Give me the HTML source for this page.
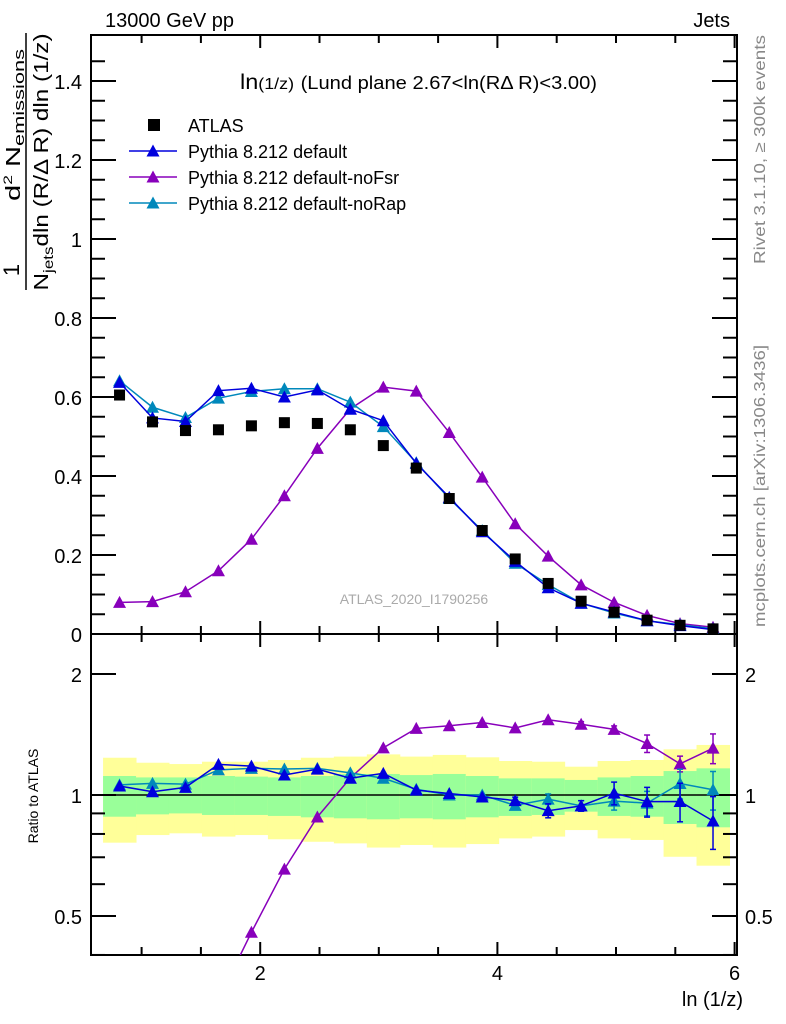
<!DOCTYPE html>
<html style="overflow:hidden"><head><meta charset="utf-8"><style>
html,body{margin:0;padding:0;background:#fff;overflow:hidden;width:786px;height:1024px}
svg{display:block;font-family:"Liberation Sans",sans-serif}
</style></head><body>
<svg id="c" width="786" height="1024" viewBox="0 0 786 1024">
<g id="bands"></g>
<g id="axes"></g>
<g id="series"></g>
<text x="105" y="27" font-size="20">13000 GeV pp</text>
<text x="730" y="27" font-size="20" text-anchor="end">Jets</text>
<text x="240" y="89" font-size="21" textLength="357" lengthAdjust="spacingAndGlyphs">ln<tspan font-size="16">(1/z)</tspan> <tspan font-size="18">(Lund plane 2.67&lt;ln(RΔ R)&lt;3.00)</tspan></text>
<text x="414" y="604" font-size="14" fill="#aaa" text-anchor="middle">ATLAS_2020_I1790256</text>
<text transform="translate(765,264) rotate(-90)" font-size="16" fill="#888" textLength="229" lengthAdjust="spacingAndGlyphs">Rivet 3.1.10, ≥ 300k events</text>
<text transform="translate(765,627) rotate(-90)" font-size="16" fill="#888" textLength="282" lengthAdjust="spacingAndGlyphs">mcplots.cern.ch [arXiv:1306.3436]</text>
<g>
<text transform="translate(48,162) rotate(-90)" text-anchor="middle" font-size="20" textLength="257" lengthAdjust="spacingAndGlyphs">N<tspan font-size="14" dy="5">jets</tspan><tspan dy="-5">dln (R/Δ R) dln (1/z)</tspan></text>
<line x1="26" y1="290" x2="26" y2="33" stroke="#000" stroke-width="1.5"/>
<text transform="translate(19,270) rotate(-90)" text-anchor="middle" font-size="22">1</text>
<text transform="translate(20,125) rotate(-90)" text-anchor="middle" font-size="20" textLength="152" lengthAdjust="spacingAndGlyphs">d<tspan font-size="12" dy="-8">2</tspan><tspan dy="8"> N</tspan><tspan font-size="15" dy="4">emissions</tspan></text>
</g>
<text transform="translate(38,796) rotate(-90)" font-size="14" text-anchor="middle">Ratio to ATLAS</text>
<text x="743" y="1006" font-size="20" text-anchor="end">ln (1/z)</text>
<g id="legend"></g>
</svg>
<script>
const lo=[0.675,0.953,1.231,1.509,1.787,2.065,2.343,2.621,2.899,3.177,3.455,3.733,4.011,4.289,4.567,4.845,5.123,5.401,5.679];
const binWidth=0.278;
const atlas=[0.605,0.537,0.515,0.517,0.527,0.535,0.533,0.517,0.477,0.42,0.343,0.262,0.19,0.128,0.083,0.055,0.035,0.022,0.013];
const pyDefault=[0.637,0.547,0.538,0.616,0.622,0.600,0.618,0.569,0.54,0.432,0.346,0.259,0.184,0.117,0.078,0.0556,0.0337,0.0212,0.0112];
const pyNoFsr=[0.08,0.082,0.107,0.16,0.24,0.35,0.47,0.57,0.625,0.615,0.51,0.397,0.279,0.197,0.1245,0.0801,0.047,0.0263,0.017];
const pyNoRap=[0.641,0.574,0.548,0.597,0.614,0.621,0.621,0.587,0.525,0.434,0.343,0.262,0.179,0.125,0.078,0.0531,0.0334,0.0235,0.0134];
const errDefault=[0.01,0.01,0.01,0.01,0.01,0.01,0.01,0.01,0.01,0.01,0.01,0.01,0.02,0.04,0.03,0.065,0.085,0.11,0.15];
const errNoFsr=[0.01,0.01,0.01,0.01,0.01,0.01,0.01,0.01,0.01,0.01,0.01,0.01,0.01,0.01,0.015,0.02,0.05,0.045,0.085];
const errNoRap=[0.01,0.01,0.01,0.01,0.01,0.01,0.01,0.01,0.01,0.01,0.01,0.01,0.015,0.03,0.03,0.05,0.07,0.085,0.11];
const yelHi=[1.238,1.203,1.194,1.21,1.21,1.222,1.238,1.246,1.262,1.246,1.258,1.241,1.215,1.21,1.176,1.215,1.222,1.299,1.332];
const grnHi=[1.115,1.106,1.106,1.115,1.111,1.106,1.115,1.128,1.128,1.121,1.128,1.115,1.1,1.1,1.09,1.106,1.115,1.147,1.165];
const grnLo=[0.883,0.895,0.9,0.892,0.892,0.887,0.88,0.875,0.87,0.875,0.87,0.88,0.887,0.892,0.909,0.887,0.883,0.847,0.831];
const yelLo=[0.761,0.795,0.803,0.788,0.795,0.776,0.765,0.758,0.74,0.751,0.74,0.755,0.78,0.788,0.818,0.78,0.773,0.702,0.667];
const xTicks=[2,4,6];
const yTicks=[0,0.2,0.4,0.6,0.8,1,1.2,1.4];
const yTickLabels=["0","0.2","0.4","0.6","0.8","1","1.2","1.4"];
const rTicks=[0.5,1,2];
const rTickLabels=["0.5","1","2"];

const NS="http://www.w3.org/2000/svg";
const L=91,R=737,T=35,MID=634,B=955;
const X=v=>23+v*118.6;
const Y=v=>634-v*395;
const RY=v=>795-Math.log2(v)*121;
function mk(p,t,a){const e=document.createElementNS(NS,t);for(const k in a)e.setAttribute(k,a[k]);p.appendChild(e);return e;}
const bands=document.getElementById('bands'),axes=document.getElementById('axes'),ser=document.getElementById('series'),leg=document.getElementById('legend');
const clip=mk(document.getElementById('c'),'clipPath',{id:'rc'});mk(clip,'rect',{x:L,y:MID,width:R-L,height:B-MID});
const clipM=mk(document.getElementById('c'),'clipPath',{id:'mc'});mk(clipM,'rect',{x:L,y:T,width:R-L,height:MID-T});
for(let i=0;i<lo.length;i++){
 const x1=X(lo[i]),w=X(lo[i]+binWidth)-x1+0.5;
 const y=mk(bands,'rect',{x:x1,y:RY(yelHi[i]),width:w,height:RY(yelLo[i])-RY(yelHi[i]),fill:'#ffff99'});
 
 
 const g=mk(bands,'rect',{x:x1,y:RY(grnHi[i]),width:w,height:RY(grnLo[i])-RY(grnHi[i]),fill:'#99ff99'});
 
 
}
mk(axes,'line',{x1:L,y1:795,x2:R,y2:795,stroke:'#000','stroke-width':1.5});
mk(axes,'rect',{x:L,y:T,width:R-L,height:B-T,fill:'none',stroke:'#000','stroke-width':2});
mk(axes,'line',{x1:L,y1:MID,x2:R,y2:MID,stroke:'#000','stroke-width':2});
for(let v=1;v<=6;v+=0.5){const x=X(v);if(x<L||x>R)continue;const maj=Number.isInteger(v)&&v%2===0;const len=maj?26:16;
 [[MID,-1],[B,-1],[T,1],[MID,1]].forEach(([yy,d])=>mk(axes,'line',{x1:x,y1:yy,x2:x,y2:yy+d*(len/2),stroke:'#000','stroke-width':2}));}
xTicks.forEach(v=>{const t=mk(axes,'text',{x:X(v),y:980,'font-size':20,'text-anchor':'middle'});t.textContent=v;
 
 });
for(let v=0;v<=1.5;v+=0.05){const y=Y(v);const maj=Math.abs(v*5-Math.round(v*5))<1e-6;const l=maj?25:14;
 mk(axes,'line',{x1:L,y1:y,x2:L+l,y2:y,stroke:'#000','stroke-width':2});mk(axes,'line',{x1:R,y1:y,x2:R-l,y2:y,stroke:'#000','stroke-width':2});}
yTicks.forEach((v,i)=>{const t=mk(axes,'text',{x:82,y:Y(v)+8,'font-size':20,'text-anchor':'end'});t.textContent=yTickLabels[i];
 
 });
[0.4,0.5,0.6,0.7,0.8,0.9,1,2].forEach(v=>{const y=RY(v);const maj=rTicks.includes(v);const l=maj?25:14;
 mk(axes,'line',{x1:L,y1:y,x2:L+l,y2:y,stroke:'#000','stroke-width':2});mk(axes,'line',{x1:R,y1:y,x2:R-l,y2:y,stroke:'#000','stroke-width':2});});
rTicks.forEach((v,i)=>{[[82,'end'],[745,'start']].forEach(([x,a])=>{const t=mk(axes,'text',{x:x,y:RY(v)+8,'font-size':20,'text-anchor':a});t.textContent=rTickLabels[i];
 
 });});
function tri(p,x,y,c){return mk(p,'path',{d:`M${x-6.5},${y+5.5}L${x+6.5},${y+5.5}L${x},${y-6.5}Z`,fill:c});}
const cx=i=>X(lo[i]+binWidth/2);
const mcs=[[pyNoFsr,errNoFsr,'#8800bb','py-nofsr'],[pyNoRap,errNoRap,'#0088bb','py-norap'],[pyDefault,errDefault,'#0000dd','py-default']];
mcs.forEach(([vals,err,col,nm])=>{
 const gm=mk(ser,'g',{'clip-path':'url(#mc)'});
 
 
 mk(gm,'polyline',{points:vals.map((v,i)=>cx(i)+','+Y(v)).join(' '),fill:'none',stroke:col,'stroke-width':1.5});
 vals.forEach((v,i)=>tri(gm,cx(i),Y(v),col));
 const gr=mk(ser,'g',{'clip-path':'url(#rc)'});
 
 
 mk(gr,'polyline',{points:vals.map((v,i)=>cx(i)+','+RY(v/atlas[i])).join(' '),fill:'none',stroke:col,'stroke-width':1.5});
 vals.forEach((v,i)=>{const r=v/atlas[i],x=cx(i);const e=err[i];
  if(e>0.012){mk(gr,'line',{x1:x,y1:RY(r*(1+e)),x2:x,y2:RY(r*(1-e)),stroke:col,'stroke-width':1.5});
   [r*(1+e),r*(1-e)].forEach(q=>mk(gr,'line',{x1:x-3,y1:RY(q),x2:x+3,y2:RY(q),stroke:col,'stroke-width':1.5}));}
  tri(gr,x,RY(r),col);});
});
const ga=mk(ser,'g',{});


atlas.forEach((v,i)=>mk(ga,'rect',{x:cx(i)-5.5,y:Y(v)-5.5,width:11,height:11,fill:'#000'}));
const entries=[['ATLAS',null],['Pythia 8.212 default','#0000dd'],['Pythia 8.212 default-noFsr','#8800bb'],['Pythia 8.212 default-noRap','#0088bb']];
entries.forEach(([t,c],i)=>{const y=125+i*26;const g=mk(leg,'g',{});
 
 
 if(c){mk(g,'line',{x1:129,y1:y,x2:177,y2:y,stroke:c,'stroke-width':1.5});tri(g,153,y,c);}
 else mk(g,'rect',{x:148,y:y-6,width:12,height:12,fill:'#000'});
 const tx=mk(g,'text',{x:188,y:y+7,'font-size':18});tx.textContent=t;});
</script>
</body></html>
